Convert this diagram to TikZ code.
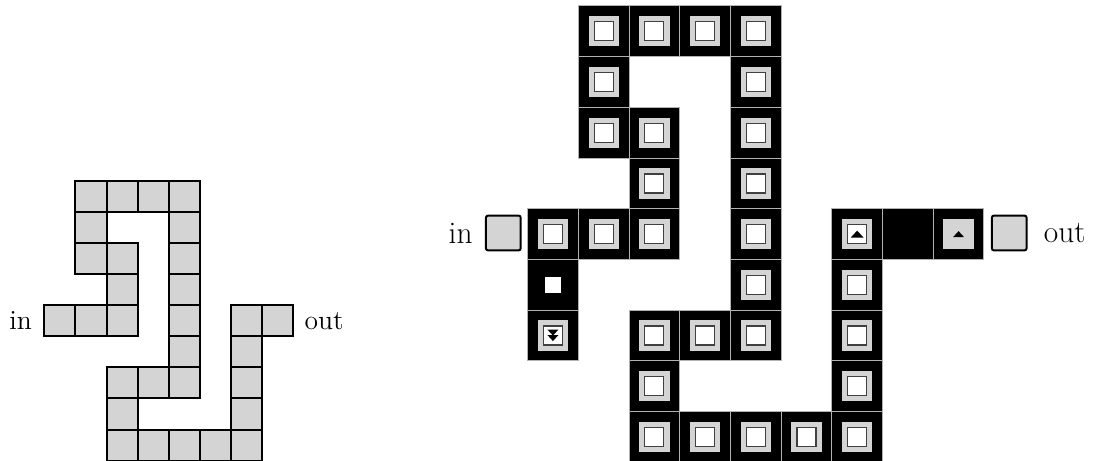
\documentclass[tikz,border=0pt]{standalone}
\usepackage{amsmath}
\usetikzlibrary{positioning}

\definecolor{padgray}{gray}{0.83}

\begin{document}
\begin{tikzpicture}[x=0.5pt, y=-0.5pt,
		tile/.style={draw=black, fill=padgray, line width=1pt, minimum size=15.55pt, inner sep=0pt},
		cell/.style={draw=gray!60, fill=black, line width=0.5pt, minimum size=25.35pt, inner sep=0pt},
		pad/.style={fill=padgray, minimum size=15.15pt, inner sep=0pt},
		hole/.style={draw=black!75, fill=white, line width=0.6pt, minimum size=9.5pt, inner sep=0pt},
		port/.style={draw=black, fill=padgray, line width=1pt, rounded corners=1pt, minimum size=17.35pt, inner sep=0pt},
		lbl/.style={inner sep=0pt}]
		
		\useasboundingbox (0,0) rectangle (1096,460);
		
		% left: plain tiles
		\foreach \r/\c in {0/1,0/2,0/3,0/4, 1/1,1/4, 2/1,2/2,2/4, 3/2,3/4,
			4/0,4/1,4/2,4/4,4/6,4/7, 5/4,5/6, 6/2,6/3,6/4,6/6, 7/2,7/6,
			8/2,8/3,8/4,8/5,8/6}
		\node [tile] (tile-\r-\c) at ({44.3+31.1*\c+15.55},{180.7+31.1*\r+15.55}) {};
		
		\node [lbl, left=5.5pt of tile-4-0, font=\fontsize{13.8}{16}\selectfont] (in-left) {in};
		\node [lbl, right=5pt of tile-4-7, font=\fontsize{13.8}{16}\selectfont] (out-left) {out};
		
		% right: black cells
		\foreach \r/\c in {0/0,0/1,0/2,0/3, 1/0,1/3, 2/0,2/1,2/3, 3/1,3/3,
			4/-1,4/0,4/1,4/3,4/5,4/6,4/7, 5/-1,5/3,5/5, 6/-1,6/1,6/2,6/3,6/5,
			7/1,7/5, 8/1,8/2,8/3,8/4,8/5}
		\node [cell] (cell-\r-\c) at ({578.3+50.7*\c+25.35},{6+50.7*\r+25.35}) {};
		
		\foreach \r/\c in {0/0,0/1,0/2,0/3, 1/0,1/3, 2/0,2/1,2/3, 3/1,3/3,
			4/-1,4/0,4/1,4/3,4/5,4/7, 5/3,5/5, 6/-1,6/1,6/2,6/3,6/5,
			7/1,7/5, 8/1,8/2,8/3,8/4,8/5}
		\node [pad] (pad-\r-\c) at (cell-\r-\c) {};
		
		\foreach \r/\c in {0/0,0/1,0/2,0/3, 1/0,1/3, 2/0,2/1,2/3, 3/1,3/3,
			4/-1,4/0,4/1,4/3,4/5, 5/3,5/5, 6/-1,6/1,6/2,6/3,6/5,
			7/1,7/5, 8/1,8/2,8/3,8/4,8/5}
		\node [hole] (hole-\r-\c) at (cell-\r-\c) {};
		
		\node [fill=white, minimum size=7.9pt, inner sep=0pt] (hole-5--1) at (cell-5--1) {};
		
		% markers
		\fill [shift={(hole-4-5.center)}] (-6.5,3.5) -- (6.5,3.5) -- (0,-3.5) -- cycle;
		\fill [shift={(pad-4-7.center)}] (-5.5,3) -- (5.5,3) -- (0,-3) -- cycle;
		\fill [shift={(hole-6--1.center)}] (-5.5,-6) -- (5.5,-6) -- (0,0) -- cycle
		(-5.5,-0.5) -- (5.5,-0.5) -- (0,5.5) -- cycle;
		
		% ports
		\node [port] (in-right) at (503.3,233) {};
		\node [port] (out-right) at (1009.2,233) {};
		\node [lbl, left=6pt of in-right, font=\fontsize{15.7}{18}\selectfont] (in-label) {in};
		\node [lbl, right=8pt of out-right, font=\fontsize{15.7}{18}\selectfont] (out-label) {out};
		
\end{tikzpicture}
\end{document}
